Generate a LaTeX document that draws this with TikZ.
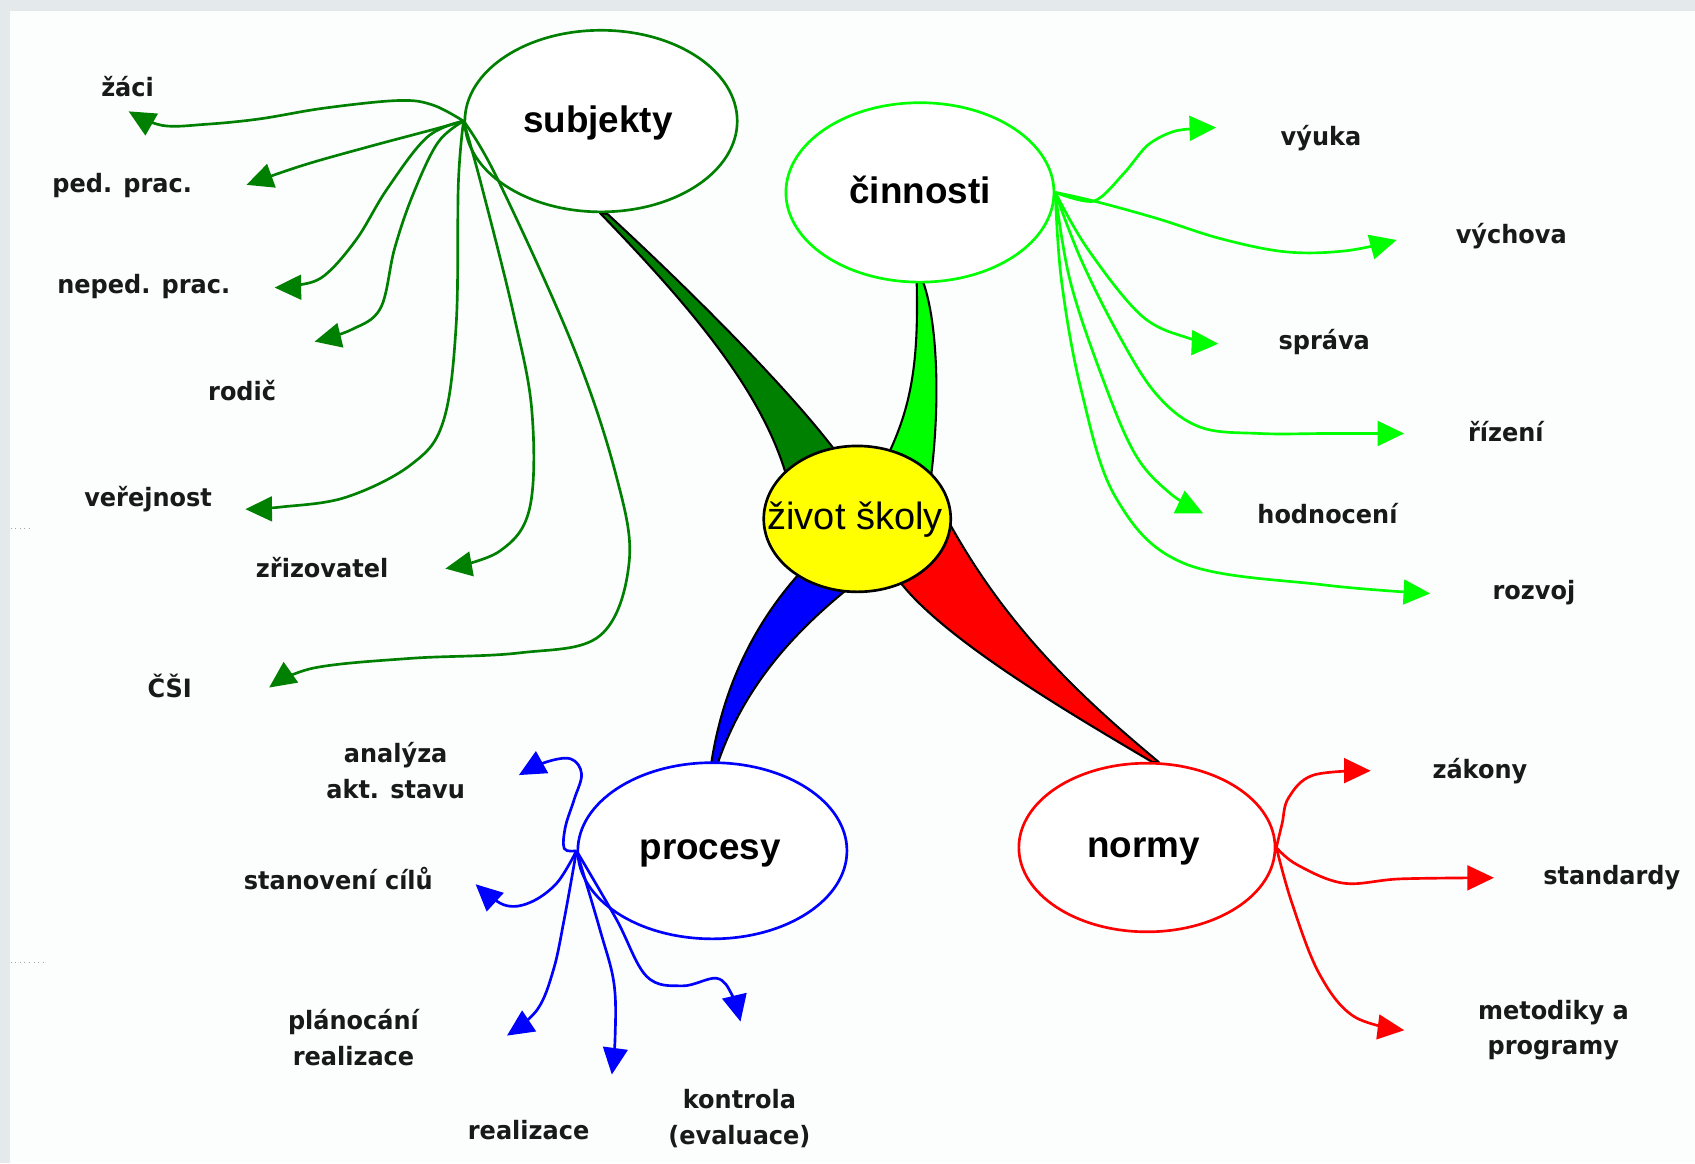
\documentclass[tikz,border=0pt]{standalone}
\usepackage{fontspec}
\newfontfamily\labfont{DejaVu Sans}[FakeStretch=0.95]
\newfontfamily\arialfont{Liberation Sans}
\usetikzlibrary{shapes.geometric,arrows.meta}
\definecolor{dkgreen}{RGB}{0,128,0}
\definecolor{ltgreen}{RGB}{0,255,0}
\definecolor{pblue}{RGB}{0,0,255}
\definecolor{pred}{RGB}{255,0,0}
\definecolor{pyellow}{RGB}{255,255,0}
\definecolor{bgout}{RGB}{228,234,236}
\definecolor{bgin}{RGB}{252,253,253}
\begin{document}
\begin{tikzpicture}[x=0.02cm,y=-0.02cm,
  lab/.style={font=\labfont\bfseries\fontsize{13.3}{18.8}\selectfont, align=center, inner sep=0pt, text=black!90},
  topic/.style={ellipse, draw, line width=1.4pt, fill=white, inner sep=0pt},
  topictext/.style={anchor=base, inner sep=0pt, font=\arialfont\bfseries\fontsize{19.4}{22}\selectfont},
  conn/.style={line width=1.4pt, -{Triangle[length=14pt,width=13pt]}},
  wedgeshape/.style={draw=black, line width=1.1pt, line join=round},
]
\useasboundingbox (0,0) rectangle (1568,1076);
\fill[bgout] (0,0) rectangle (1568,1076);
\fill[bgin] (9,10) rectangle (1568,1076);
\draw[black!35, dotted, line width=0.4pt] (10,489) -- (28,489);
\draw[black!35, dotted, line width=0.4pt] (10,890) -- (42,890);

% wedges
\draw[wedgeshape, fill=dkgreen] (555,197) .. controls (635,280) and (705,360) .. (728,442) -- (775,420) .. controls (730,360) and (640,270) .. (562,198) -- cycle;
\draw[wedgeshape, fill=ltgreen] (848,261) .. controls (850,340) and (842,380) .. (818,428) -- (860,450) .. controls (870,380) and (868,300) .. (854,261) -- cycle;
\draw[wedgeshape, fill=pblue] (658,706) .. controls (668,640) and (695,580) .. (740,530) -- (790,540) .. controls (740,580) and (690,630) .. (664,706) -- cycle;
\draw[wedgeshape, fill=pred] (1072,705) .. controls (1000,645) and (930,580) .. (875,478) -- (830,535) .. controls (870,590) and (990,660) .. (1066,705) -- cycle;

% topic ellipses
\node[topic, draw=dkgreen, minimum width=5.04cm, minimum height=3.36cm] (subj) at (556,112) {};
\node[topic, draw=ltgreen, minimum width=4.96cm, minimum height=3.32cm] (cin) at (851,178) {};
\node[topic, draw=pblue, minimum width=4.98cm, minimum height=3.26cm] (proc) at (659,787) {};
\node[topic, draw=pred, minimum width=4.74cm, minimum height=3.12cm] (norm) at (1061,784) {};
\node[ellipse, draw=black, line width=1.4pt, fill=pyellow, inner sep=0pt, minimum width=3.46cm, minimum height=2.7cm] (core) at (793,480) {};

\node[topictext] (subjT) at (553,123) {subjekty};
\node[topictext] (cinT) at (851,188) {činnosti};
\node[topictext] (procT) at (657,795) {procesy};
\node[topictext] (normT) at (1058,793) {normy};
\node[anchor=base, inner sep=0pt, font=\arialfont\fontsize{20}{24}\selectfont] (coreT) at (791,490) {život školy};

% tip coordinates
\coordinate (tZaci) at (119,103);
\coordinate (tPed) at (228,171);
\coordinate (tNeped) at (254,266);
\coordinate (tRodic) at (291,316);
\coordinate (tVer) at (227,471);
\coordinate (tZriz) at (412,526);
\coordinate (tCsi) at (249,636);
\coordinate (tVyuka) at (1125,118);
\coordinate (tVych) at (1292,222);
\coordinate (tSprava) at (1127,318);
\coordinate (tRiz) at (1299,401);
\coordinate (tHod) at (1113,475);
\coordinate (tRoz) at (1323,549);
\coordinate (tZak) at (1268,713);
\coordinate (tStd) at (1382,812);
\coordinate (tMet) at (1299,953);
\coordinate (tAna) at (480,717);
\coordinate (tStan) at (440,818);
\coordinate (tPlan) at (469,958);
\coordinate (tReal) at (566,994);
\coordinate (tKon) at (685,945);

% subjekty arrows
\begin{scope}[conn, dkgreen]
\draw plot[smooth, tension=0.6] coordinates {(subj.west) (400,97) (368,93) (300,100) (240,110) (190,115) (150,116) (tZaci)};
\draw plot[smooth, tension=0.6] coordinates {(subj.west) (400,120) (340,136) (280,153) (tPed)};
\draw plot[smooth, tension=0.6] coordinates {(subj.west) (395,127) (358,175) (330,221) (300,255) (275,264) (tNeped)};
\draw plot[smooth, tension=0.6] coordinates {(subj.west) (405,132) (382,180) (365,230) (352,285) (325,305) (tRodic)};
\draw plot[smooth, tension=0.6] coordinates {(subj.west) (424,170) (422,300) (410,390) (380,430) (320,460) (260,469) (tVer)};
\draw plot[smooth, tension=0.6] coordinates {(subj.west) (445,170) (475,290) (492,380) (490,470) (462,510) (tZriz)};
\draw plot[smooth, tension=0.6] coordinates {(subj.west) (460,165) (530,320) (570,440) (582,520) (555,588) (480,604) (380,609) (290,618) (tCsi)};
\end{scope}

% cinnosti arrows
\begin{scope}[conn, ltgreen]
\draw plot[smooth, tension=0.5] coordinates {(cin.east) (1012,186) (1040,160) (1062,134) (1088,121) (tVyuka)};
\draw plot[smooth, tension=0.6] coordinates {(cin.east) (1012,186) (1070,202) (1130,221) (1190,233) (1245,232) (tVych)};
\draw plot[smooth, tension=0.6] coordinates {(cin.east) (1006,230) (1056,292) (1100,313) (tSprava)};
\draw plot[smooth, tension=0.6] coordinates {(cin.east) (1000,240) (1035,310) (1070,365) (1110,395) (1165,401) (1230,401) (tRiz)};
\draw plot[smooth, tension=0.6] coordinates {(cin.east) (990,260) (1020,350) (1050,420) (1082,456) (tHod)};
\draw plot[smooth, tension=0.6] coordinates {(cin.east) (982,260) (1000,360) (1032,460) (1095,521) (1224,541) (tRoz)};
\end{scope}

% normy arrows
\begin{scope}[conn, pred]
\draw plot[smooth, tension=0.6] coordinates {(norm.east) (1186,762) (1192,738) (1215,717) (tZak)};
\draw plot[smooth, tension=0.6] coordinates {(norm.east) (1200,800) (1243,817) (1296,813) (tStd)};
\draw plot[smooth, tension=0.6] coordinates {(norm.east) (1195,835) (1220,900) (1252,940) (tMet)};
\end{scope}

% procesy arrows
\begin{scope}[conn, pblue]
\draw plot[smooth, tension=0.6] coordinates {(proc.west) (522,785) (523,765) (531,740) (538,716) (528,702) (505,705) (tAna)};
\draw plot[smooth, tension=0.6] coordinates {(proc.west) (515,817) (490,835) (466,837) (tStan)};
\draw plot[smooth, tension=0.6] coordinates {(proc.west) (522,850) (512,897) (497,934) (tPlan)};
\draw plot[smooth, tension=0.6] coordinates {(proc.west) (555,860) (568,910) (569,960) (tReal)};
\draw plot[smooth, tension=0.6] coordinates {(proc.west) (570,850) (598,903) (631,912) (663,905) (677,920) (tKon)};
\end{scope}

% labels
\node[lab] (lZaci) at (118,80) {žáci};
\node[lab] (lPed) at (113,172) {ped. prac.};
\node[lab] (lNeped) at (133,265) {neped. prac.};
\node[lab] (lRodic) at (224,361) {rodič};
\node[lab] (lVer) at (137,462) {veřejnost};
\node[lab] (lZriz) at (298,525) {zřizovatel};
\node[lab] (lCsi) at (157,635) {ČŠI};
\node[lab] (lVyuka) at (1222,128) {výuka};
\node[lab] (lVych) at (1398,218) {výchova};
\node[lab] (lSprava) at (1225,316) {správa};
\node[lab] (lRiz) at (1393,399) {řízení};
\node[lab] (lHod) at (1228,475) {hodnocení};
\node[lab] (lRoz) at (1419,548) {rozvoj};
\node[lab] (lZak) at (1369,713) {zákony};
\node[lab] (lStd) at (1491,812) {standardy};
\node[lab] (lMet) at (1437,953) {metodiky a\\programy};
\node[lab] (lAna) at (366,713) {analýza\\akt. stavu};
\node[lab] (lStan) at (313,813) {stanovení cílů};
\node[lab] (lPlan) at (327,960) {plánocání\\realizace};
\node[lab] (lReal) at (489,1045) {realizace};
\node[lab] (lKon) at (684,1035) {kontrola\\(evaluace)};
\end{tikzpicture}
\end{document}
